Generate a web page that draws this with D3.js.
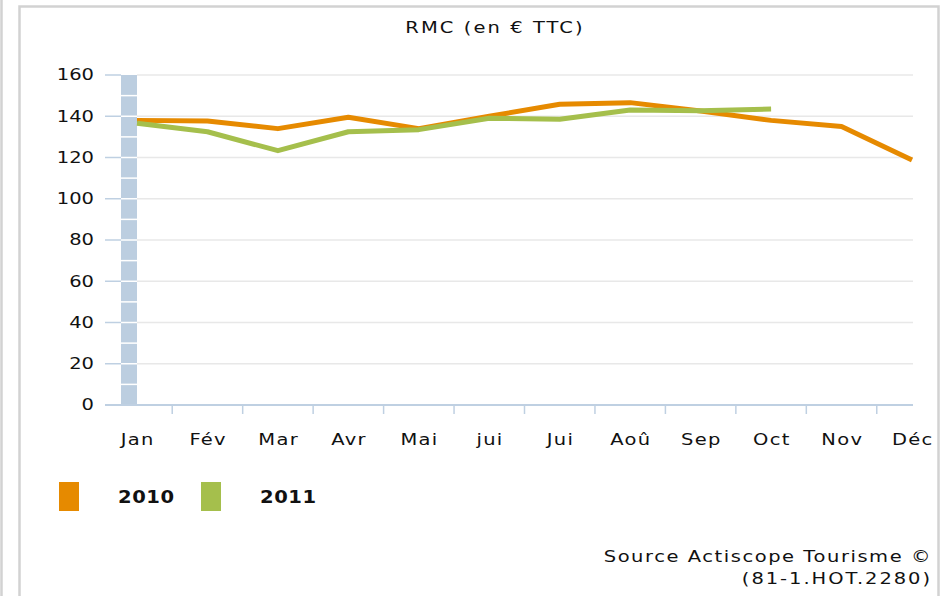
<!DOCTYPE html>
<html>
<head>
<meta charset="utf-8">
<script src="https://cdn.jsdelivr.net/npm/d3@7"></script>
<style>
  body { margin: 0; background: #fff; }
  text { font-family: "DejaVu Sans", Verdana, sans-serif; fill: #111; }
</style>
</head>
<body>
<div id="chart"></div>
<script>
// data
const months = ['Jan', 'Fév', 'Mar', 'Avr', 'Mai', 'jui', 'Jui', 'Aoû', 'Sep', 'Oct', 'Nov', 'Déc'];
const rmc2010 = [138, 137.7, 134, 139.5, 134, 140, 145.8, 146.6, 142.5, 138, 135, 118.8];
const rmc2011 = [136.6, 132.5, 123.3, 132.5, 133.5, 139, 138.5, 143, 142.7, 143.5];
const yTicks = [0, 20, 40, 60, 80, 100, 120, 140, 160];
const seriesNames = ['2010', '2011'];
const colors = ['#e68a00', '#a5bf4c'];

const width = 947, height = 596;
const margin = {top: 75, right: 35, bottom: 191, left: 137};
const sx = 1.3; // the original text looks stretched sideways

const svg = d3.select('#chart').append('svg')
    .attr('width', width)
    .attr('height', height);

// place a text at (px, py), widened by sx
function at(px, py, s) {
    return `translate(${px},${py}) scale(${s || sx},1)`;
}

// frame
const frame = svg.append('g')
    .attr('fill', 'none')
    .attr('stroke', '#d2d2d2')
    .attr('stroke-width', 2.5);
frame.append('line').attr('x1', 1.5).attr('x2', 1.5).attr('y1', 0).attr('y2', height);
frame.append('path').attr('d', `M19.5,${height} V6.5 H938.5 V${height}`);

const x = d3.scalePoint()
    .domain(months)
    .range([margin.left, width - margin.right]);

const y = d3.scaleLinear()
    .domain([0, 160])
    .range([height - margin.bottom, margin.top]);

const step = x.step();

// title
svg.append('text')
    .attr('transform', at(495, 33))
    .attr('text-anchor', 'middle')
    .style('font-size', '15px')
    .style('letter-spacing', '1.6px')
    .text('RMC (en € TTC)');

// grid
svg.append('g')
    .selectAll('line')
    .data(yTicks.slice(1))
    .join('line')
    .attr('x1', margin.left)
    .attr('x2', width - margin.right + 1)
    .attr('y1', d => y(d))
    .attr('y2', d => y(d))
    .attr('stroke', '#e8e8e8')
    .attr('stroke-width', 1.5);

// y axis ticks + labels
const yAxis = svg.append('g');
yAxis.selectAll('line')
    .data(yTicks)
    .join('line')
    .attr('x1', 105)
    .attr('x2', 121)
    .attr('y1', d => y(d))
    .attr('y2', d => y(d))
    .attr('stroke', '#bfd0e2')
    .attr('stroke-width', 1.5);
yAxis.selectAll('text')
    .data(yTicks)
    .join('text')
    .attr('transform', d => at(94, y(d)))
    .attr('dy', '0.36em')
    .attr('text-anchor', 'end')
    .style('font-size', '15px')
    .text(d => d);

// blue wall on the left of the plot
svg.append('rect')
    .attr('x', 121)
    .attr('width', margin.left - 121)
    .attr('y', y(160))
    .attr('height', y(0) - y(160))
    .attr('fill', '#bccee0');
svg.append('g')
    .selectAll('line')
    .data(y.ticks(16).slice(1, -1))
    .join('line')
    .attr('x1', 121)
    .attr('x2', margin.left)
    .attr('y1', d => y(d))
    .attr('y2', d => y(d))
    .attr('stroke', '#fff')
    .attr('stroke-width', 1.5);

// x axis
const xAxis = svg.append('g');
xAxis.append('line')
    .attr('x1', 105)
    .attr('x2', width - margin.right + 1)
    .attr('y1', y(0))
    .attr('y2', y(0))
    .attr('stroke', '#bfd0e2')
    .attr('stroke-width', 2);
xAxis.selectAll('line.tick')
    .data(months.slice(0, -1))
    .join('line')
    .attr('class', 'tick')
    .attr('x1', d => x(d) + step / 2)
    .attr('x2', d => x(d) + step / 2)
    .attr('y1', y(0))
    .attr('y2', y(0) + 9)
    .attr('stroke', '#bfd0e2')
    .attr('stroke-width', 1.5);
xAxis.selectAll('text')
    .data(months)
    .join('text')
    .attr('transform', d => at(x(d) + 0.7, 445))
    .attr('text-anchor', 'middle')
    .style('font-size', '15px')
    .style('letter-spacing', '1px')
    .text(d => d);

// lines
const line = d3.line()
    .x((d, i) => x(months[i]))
    .y(d => y(d));

[rmc2010, rmc2011].forEach((vals, i) => {
    svg.append('path')
        .datum(vals)
        .attr('fill', 'none')
        .attr('stroke', colors[i])
        .attr('stroke-width', 5)
        .attr('stroke-linejoin', 'round')
        .attr('d', line);
});

// legend
const legend = svg.append('g')
    .selectAll('g')
    .data(seriesNames)
    .join('g')
    .attr('transform', (d, i) => `translate(${59 + i * 142},482)`);
legend.append('rect')
    .attr('width', 20)
    .attr('height', 29)
    .attr('fill', (d, i) => colors[i]);
legend.append('text')
    .attr('transform', at(59, 21, 1.15))
    .style('font-size', '17px')
    .style('font-weight', 'bold')
    .style('letter-spacing', '0.5px')
    .text(d => d);

// source
svg.append('text')
    .attr('transform', at(932, 562))
    .attr('text-anchor', 'end')
    .style('font-size', '15px')
    .style('letter-spacing', '1.2px')
    .text('Source Actiscope Tourisme ©');
svg.append('text')
    .attr('transform', at(932, 584))
    .attr('text-anchor', 'end')
    .style('font-size', '15px')
    .style('letter-spacing', '1.5px')
    .text('(81-1.HOT.2280)');
</script>
</body>
</html>
